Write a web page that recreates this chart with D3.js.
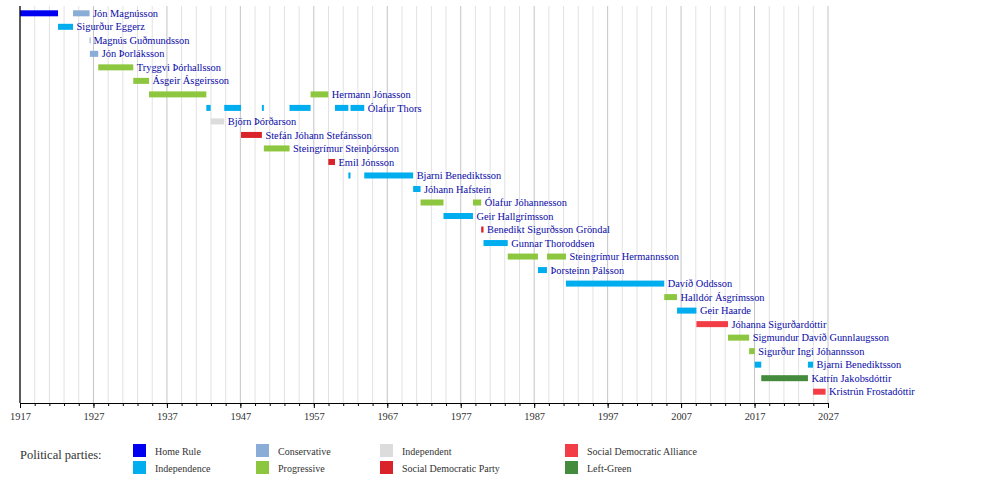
<!DOCTYPE html>
<html>
<head>
<meta charset="utf-8">
<script src="https://cdn.jsdelivr.net/npm/d3@7"></script>
<style>
  body { margin: 0; background: white; }
  svg { display: block; }
</style>
</head>
<body>
<svg id="chart"></svg>
<script>
// prime ministers, one row each (top to bottom)
let ministers = [
  'Jón Magnússon', 'Sigurður Eggerz', 'Magnús Guðmundsson', 'Jón Þorláksson',
  'Tryggvi Þórhallsson', 'Ásgeir Ásgeirsson', 'Hermann Jónasson', 'Ólafur Thors',
  'Björn Þórðarson', 'Stefán Jóhann Stefánsson', 'Steingrímur Steinþórsson',
  'Emil Jónsson', 'Bjarni Benediktsson', 'Jóhann Hafstein', 'Ólafur Jóhannesson',
  'Geir Hallgrímsson', 'Benedikt Sigurðsson Gröndal', 'Gunnar Thoroddsen',
  'Steingrímur Hermannsson', 'Þorsteinn Pálsson', 'Davíð Oddsson',
  'Halldór Ásgrímsson', 'Geir Haarde', 'Jóhanna Sigurðardóttir',
  'Sigmundur Davíð Gunnlaugsson', 'Sigurður Ingi Jóhannsson',
  'Bjarni Benediktsson ', 'Katrín Jakobsdóttir', 'Kristrún Frostadóttir'
];

// legend order (two rows, four columns)
let parties = [
  'Home Rule', 'Independence', 'Conservative', 'Progressive',
  'Independent', 'Social Democratic Party', 'Social Democratic Alliance', 'Left-Green'
];
let partyColors = [
  '#0000f0', '#00adef', '#8aadd7', '#8dc63f',
  '#dcdcdc', '#d9222a', '#f23d47', '#458b3e'
];

// terms: [row, party, start, end]
let terms = [
  [0, 'Home Rule', '1917-01-04', '1922-03-07'],
  [0, 'Conservative', '1924-03-22', '1926-06-23'],
  [1, 'Independence', '1922-03-07', '1924-03-22'],
  [2, 'Conservative', '1926-06-23', '1926-07-08'],
  [3, 'Conservative', '1926-07-08', '1927-08-28'],
  [4, 'Progressive', '1927-08-28', '1932-06-03'],
  [5, 'Progressive', '1932-06-03', '1934-07-28'],
  [6, 'Progressive', '1934-07-28', '1942-05-16'],
  [6, 'Progressive', '1956-07-24', '1958-12-23'],
  [7, 'Independence', '1942-05-16', '1942-12-16'],
  [7, 'Independence', '1944-10-21', '1947-02-04'],
  [7, 'Independence', '1949-12-06', '1950-03-14'],
  [7, 'Independence', '1953-09-11', '1956-07-24'],
  [7, 'Independence', '1959-11-20', '1961-09-14'],
  [7, 'Independence', '1961-12-31', '1963-11-14'],
  [8, 'Independent', '1942-12-16', '1944-10-21'],
  [9, 'Social Democratic Party', '1947-02-04', '1949-12-06'],
  [10, 'Progressive', '1950-03-14', '1953-09-11'],
  [11, 'Social Democratic Party', '1958-12-23', '1959-11-20'],
  [12, 'Independence', '1961-09-14', '1961-12-31'],
  [12, 'Independence', '1963-11-14', '1970-07-10'],
  [13, 'Independence', '1970-07-10', '1971-07-14'],
  [14, 'Progressive', '1971-07-14', '1974-08-28'],
  [14, 'Progressive', '1978-09-01', '1979-10-15'],
  [15, 'Independence', '1974-08-28', '1978-09-01'],
  [16, 'Social Democratic Party', '1979-10-15', '1980-02-08'],
  [17, 'Independence', '1980-02-08', '1983-05-26'],
  [18, 'Progressive', '1983-05-26', '1987-07-08'],
  [18, 'Progressive', '1988-09-28', '1991-04-30'],
  [19, 'Independence', '1987-07-08', '1988-09-28'],
  [20, 'Independence', '1991-04-30', '2004-09-15'],
  [21, 'Progressive', '2004-09-15', '2006-06-15'],
  [22, 'Independence', '2006-06-15', '2009-02-01'],
  [23, 'Social Democratic Alliance', '2009-02-01', '2013-05-23'],
  [24, 'Progressive', '2013-05-23', '2016-04-07'],
  [25, 'Progressive', '2016-04-07', '2017-01-11'],
  [26, 'Independence', '2017-01-11', '2017-11-30'],
  [26, 'Independence', '2024-04-09', '2024-12-21'],
  [27, 'Left-Green', '2017-11-30', '2024-04-09'],
  [28, 'Social Democratic Alliance', '2024-12-21', '2026-09-01']
];

let startYear = 1917;
let endYear = 2027;
let labelYears = d3.range(startYear, endYear + 1, 10);

function createGraph() {
  let width = 1000;
  let height = 482;
  let margin = { top: 6, left: 20, right: 172 };
  let axisY = 403;
  let parseDate = d3.timeParse('%Y-%m-%d');
  let serif = '"Liberation Serif", "DejaVu Serif", serif';

  let svg = d3.select('#chart');
  svg.selectAll('*').remove();
  svg.attr('width', width).attr('height', height)
    .attr('viewBox', `0 0 ${width} ${height}`);

  let xScale = d3.scaleTime()
    .domain([new Date(startYear, 0, 1), new Date(endYear, 0, 1)])
    .range([margin.left, width - margin.right]);

  let yScale = d3.scalePoint()
    .domain(d3.range(ministers.length))
    .range([13.3, 391.7]);

  let color = d3.scaleOrdinal().domain(parties).range(partyColors);

  // grid, every 2 years, darker every 10
  let gridYears = d3.range(startYear, endYear + 1, 2);
  svg.append('g')
    .selectAll('line')
    .data(gridYears)
    .enter()
    .append('line')
    .attr('x1', d => xScale(new Date(d, 0, 1)))
    .attr('x2', d => xScale(new Date(d, 0, 1)))
    .attr('y1', margin.top)
    .attr('y2', axisY)
    .attr('stroke', d => (d - startYear) % 10 === 0 ? '#c4c4c4' : '#e2e2e2')
    .attr('stroke-width', 1);

  // bars
  svg.append('g')
    .selectAll('rect')
    .data(terms)
    .enter()
    .append('rect')
    .attr('x', d => xScale(parseDate(d[2])))
    .attr('y', d => yScale(d[0]) - 3)
    .attr('width', d => Math.max(1, xScale(parseDate(d[3])) - xScale(parseDate(d[2]))))
    .attr('height', 6)
    .attr('fill', d => color(d[1]));

  // names, after the last term of each row
  let lastEnd = d3.rollup(terms, v => d3.max(v, t => parseDate(t[3])), t => t[0]);
  svg.append('g')
    .selectAll('text')
    .data(ministers)
    .enter()
    .append('text')
    .attr('x', (d, i) => xScale(lastEnd.get(i)) + 3.5)
    .attr('y', (d, i) => yScale(i) + 3.6)
    .text(d => d.trim())
    .style('font-family', serif)
    .style('font-size', '10.4px')
    .style('fill', '#0a0aa8');

  // minor ticks every 2 years
  svg.append('g')
    .attr('transform', `translate(0, ${axisY})`)
    .call(d3.axisBottom(xScale)
      .tickValues(gridYears.map(y => new Date(y, 0, 1)))
      .tickSize(3)
      .tickFormat(''))
    .call(g => g.select('.domain').remove())
    .attr('color', 'black');

  // major ticks and labels
  let axis = svg.append('g')
    .attr('transform', `translate(0, ${axisY})`)
    .call(d3.axisBottom(xScale)
      .tickValues(labelYears.map(y => new Date(y, 0, 1)))
      .tickSize(5)
      .tickSizeOuter(0)
      .tickPadding(5)
      .tickFormat(d3.timeFormat('%Y')))
    .attr('color', 'black');
  axis.selectAll('text')
    .style('font-family', serif)
    .style('font-size', '10.4px')
    .style('fill', '#333');
  axis.select('.domain').attr('stroke-width', 1.2);

  // left axis line
  svg.append('line')
    .attr('x1', margin.left).attr('x2', margin.left)
    .attr('y1', margin.top).attr('y2', axisY)
    .attr('stroke', 'black')
    .attr('stroke-width', 1.2);

  // legend
  svg.append('text')
    .attr('x', 20)
    .attr('y', 459)
    .text('Political parties:')
    .style('font-family', serif)
    .style('font-size', '12.5px')
    .style('fill', '#333');

  let colX = [133, 256, 380, 565];
  let legend = svg.append('g')
    .selectAll('g')
    .data(parties)
    .enter()
    .append('g')
    .attr('transform', (d, i) => `translate(${colX[Math.floor(i / 2)]}, ${444 + (i % 2) * 17})`);
  legend.append('rect')
    .attr('width', 13)
    .attr('height', 13)
    .attr('fill', d => color(d));
  legend.append('text')
    .attr('x', 22)
    .attr('y', 10.5)
    .text(d => d)
    .style('font-family', serif)
    .style('font-size', '10px')
    .style('fill', '#333');
}

createGraph();
</script>
</body>
</html>
